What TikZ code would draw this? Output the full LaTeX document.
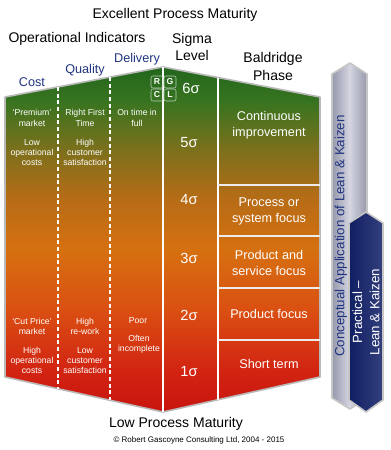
\documentclass[tikz,border=0pt]{standalone}
\usepackage{fontspec}
\setmainfont{Liberation Sans}
\usetikzlibrary{positioning, calc}

\definecolor{mred}{RGB}{200,20,14}
\definecolor{mredtwo}{RGB}{210,36,18}
\definecolor{morred}{RGB}{218,80,18}
\definecolor{morange}{RGB}{214,112,16}
\definecolor{mbrown}{RGB}{182,108,22}
\definecolor{molive}{RGB}{124,112,28}
\definecolor{mgreentwo}{RGB}{56,116,32}
\definecolor{mgreen}{RGB}{34,102,28}
\definecolor{headblue}{RGB}{32,52,128}
\definecolor{bargrey}{RGB}{184,186,204}
\definecolor{bargreydark}{RGB}{150,152,172}
\definecolor{barnavy}{RGB}{16,30,100}

\pgfdeclareverticalshading{maturity}{100bp}{%
  color(0bp)=(mred); color(25bp)=(mred); color(31bp)=(mredtwo);
  color(40bp)=(morred); color(48.5bp)=(morange); color(56bp)=(mbrown);
  color(63bp)=(molive); color(70bp)=(mgreentwo); color(75bp)=(mgreen);
  color(100bp)=(mgreen)}

\begin{document}
\begin{tikzpicture}[
  x=0.75pt, y=-0.75pt,
  node distance=2pt,
  heading/.style={font=\fontsize{10.5}{13}\selectfont, align=center},
  colhead/.style={font=\fontsize{9.5}{12}\selectfont, text=headblue},
  indicator/.style={
    font=\fontsize{6.5}{7.7}\selectfont, text=white, align=center, inner sep=0pt
  },
  sigma/.style={font=\fontsize{11}{13}\selectfont, text=white},
  phase/.style={font=\fontsize{9.5}{12}\selectfont, text=white, align=center},
  ragbox/.style={
    draw=white!70!mgreen, rounded corners=1.5pt, minimum size=9pt,
    inner sep=0pt, text=white, font=\fontsize{6.5}{7}\selectfont\bfseries
  },
  divider/.style={white, line width=0.9pt},
  dashdiv/.style={white, line width=0.9pt, dash pattern=on 3pt off 2pt},
  bar/.style={draw=gray!45, line width=1.2pt, line join=round}
]
\useasboundingbox (0,0) rectangle (390,450);

% outline of the maturity house
\coordinate (tl) at (5,97);
\coordinate (peak) at (163,67);
\coordinate (tr) at (320,97);
\coordinate (br) at (320,377);
\coordinate (base) at (163,412);
\coordinate (bl) at (5,377);
\shade[shading=maturity, draw=gray!55, line width=1.2pt, line join=round]
  (tl) -- (peak) -- (tr) -- (br) -- (base) -- (bl) -- cycle;

% column dividers
\coordinate (qtop) at (58,87);
\coordinate (qbot) at (58,389);
\coordinate (dtop) at (110,77);
\coordinate (dbot) at (110,400);
\coordinate (btop) at (218,77.5);
\coordinate (bbot) at (218,399.7);
\draw[dashdiv] (qtop) -- (qbot);
\draw[dashdiv] (dtop) -- (dbot);
\draw[divider] (peak) -- (base);
\draw[divider] (btop) -- (bbot);
\foreach \y [count=\i] in {185,236,288,340} {
  \coordinate (hl\i) at (218,\y);
  \coordinate (hr\i) at (320,\y);
  \draw[white!85!gray, line width=0.8pt] (hl\i) -- (hr\i);
}

% headings
\node[heading] (top) at (175,15) {Excellent Process Maturity};
\node[heading] (ops) at (77,39) {Operational Indicators};
\node[heading] (sig) at (192,47) {Sigma\\Level};
\node[heading] (bal) at (273,66.5) {Baldridge\\Phase};
\node[colhead] (cost) at (32,82) {Cost};
\node[colhead] (qual) at (85,70) {Quality};
\node[colhead] (deliv) at (137,59) {Delivery};

% RGCL key
\node[ragbox] (r) at (157,82) {R};
\node[ragbox] (g) at (170,82) {G};
\node[ragbox] (c) at (157,95) {C};
\node[ragbox] (l) at (170,95) {L};

% sigma levels
\node[sigma] (s6) at (191,88) {6σ};
\node[sigma] (s5) at (189,143) {5σ};
\node[sigma] (s4) at (189,200) {4σ};
\node[sigma] (s3) at (189,258) {3σ};
\node[sigma] (s2) at (189,315) {2σ};
\node[sigma] (s1) at (189,372) {1σ};

% Baldridge phases
\node[phase] (ph1) at (269,125) {Continuous\\improvement};
\node[phase] (ph2) at (269,211) {Process or\\system focus};
\node[phase] (ph3) at (269,263) {Product and\\service focus};
\node[phase] (ph4) at (269,314) {Product focus};
\node[phase] (ph5) at (269,364) {Short term};

% indicators, excellent end
\node[indicator] (cost1) at (32,118) {`Premium'\\market};
\node[indicator] (cost2) at (32,152.5) {Low\\operational\\costs};
\node[indicator] (qual1) at (85,118) {Right First\\Time};
\node[indicator] (qual2) at (85,152.5) {High\\customer\\satisfaction};
\node[indicator] (deliv1) at (137,118) {On time in\\full};

% indicators, low end
\node[indicator] (cost3) at (32,326.5) {`Cut Price'\\market};
\node[indicator] (cost4) at (32,360.5) {High\\operational\\costs};
\node[indicator] (qual3) at (85,326.5) {High\\re-work};
\node[indicator] (qual4) at (85,360.5) {Low\\customer\\satisfaction};
\node[indicator] (deliv3) at (138,321) {Poor};
\node[indicator] (deliv4) at (139,344.5) {Often\\incomplete};

\node[heading] (low) at (176,424) {Low Process Maturity};
\node[font=\fontsize{6}{7}\selectfont] (copy) at (199,440)
  {© Robert Gascoyne Consulting Ltd, 2004 - 2015};

% application bars
\coordinate (ga) at (332,74);
\coordinate (gb) at (350,63);
\coordinate (gc) at (367,74);
\coordinate (gd) at (367,398);
\coordinate (ge) at (350,409);
\coordinate (gf) at (332,398);
\shade[bar, left color=bargreydark, right color=bargreydark, middle color=bargrey!60]
  (ga) -- (gb) -- (gc) -- (gd) -- (ge) -- (gf) -- cycle;
\node[rotate=90, colhead, font=\fontsize{10}{12}\selectfont] (concept) at (341,236)
  {Conceptual Application of Lean \& Kaizen};

\coordinate (na) at (349,223);
\coordinate (nb) at (366,212);
\coordinate (nc) at (383,223);
\coordinate (nd) at (383,400);
\coordinate (ne) at (366,412);
\coordinate (nf) at (349,400);
\shade[bar, left color=barnavy, right color=barnavy!85!white]
  (na) -- (nb) -- (nc) -- (nd) -- (ne) -- (nf) -- cycle;
\node[rotate=90, text=white, align=center, font=\fontsize{10}{13}\selectfont]
  (practical) at (366,312) {Practical –\\Lean \& Kaizen};

\end{tikzpicture}
\end{document}
